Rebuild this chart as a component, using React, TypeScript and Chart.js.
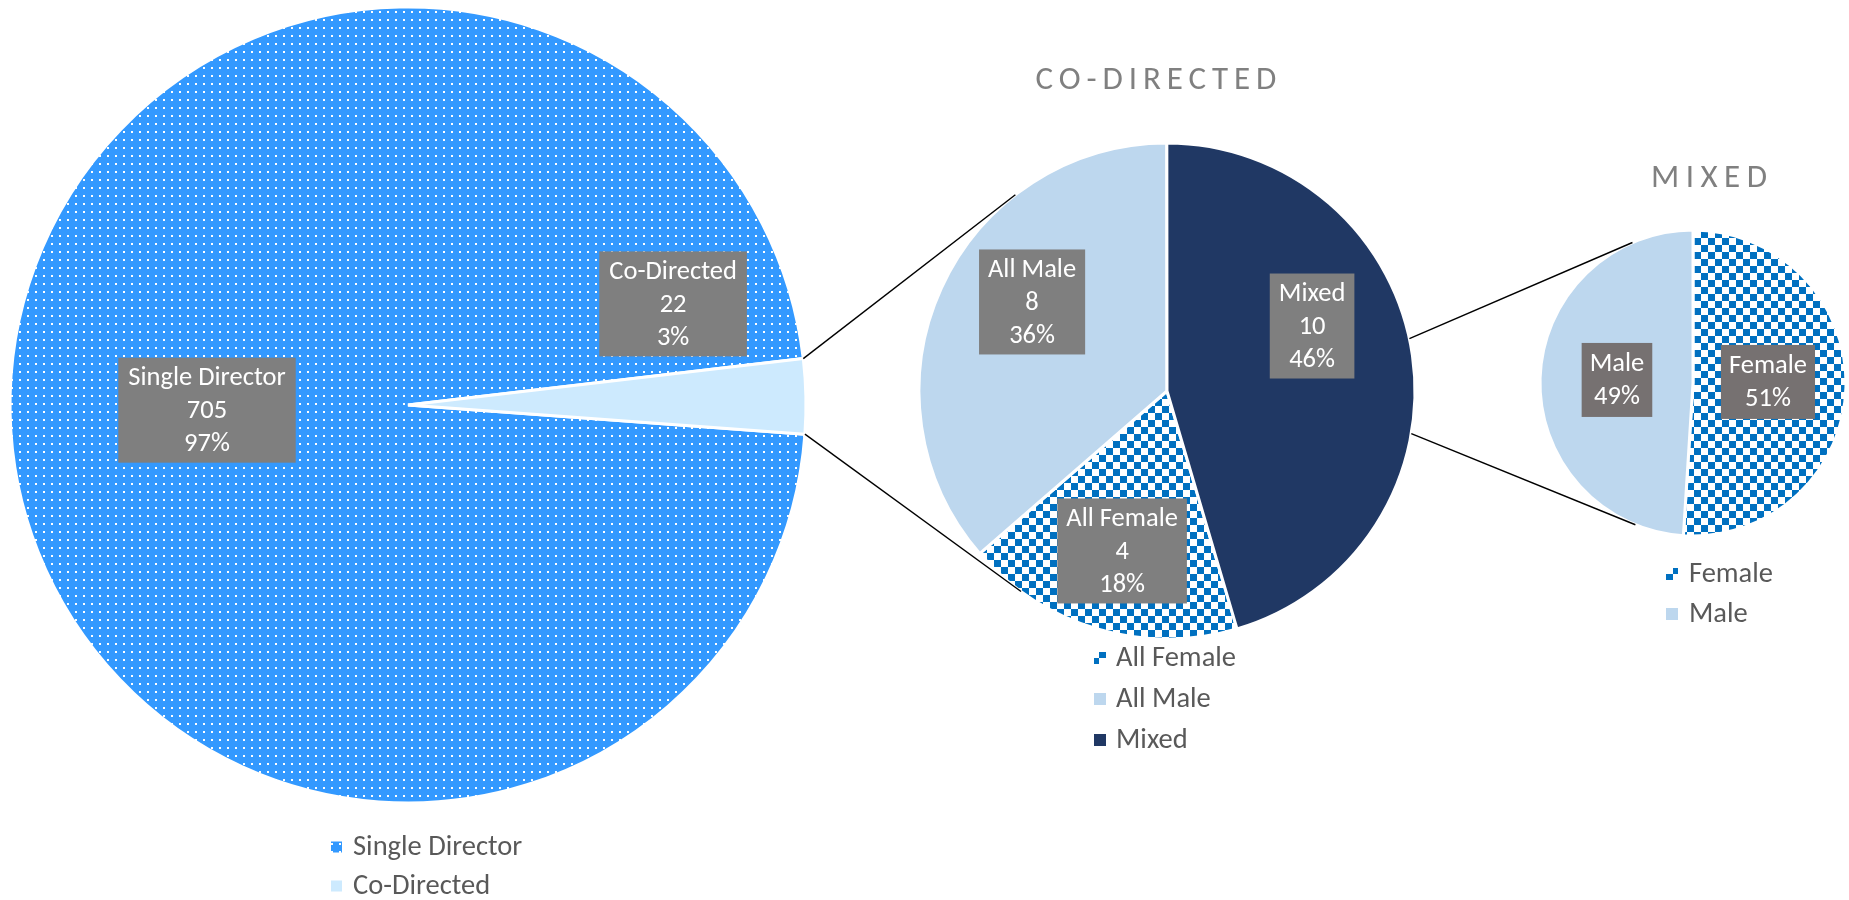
import React, { useEffect, useRef } from 'react';
import { Chart, registerables } from 'chart.js';

Chart.register(...registerables);

// ---------- data ----------
const mainLabels = ['Single Director', 'Co-Directed'];
const mainValues = [705, 22];
const mainPercents = [97, 3];

const coLabels = ['All Female', 'All Male', 'Mixed'];
const coValues = [4, 8, 10];
const coPercents = [18, 36, 46];

const mixedLabels = ['Female', 'Male'];
const mixedValues = [51, 49];
const mixedPercents = [51, 49];

const coTitle = 'CO-DIRECTED';
const mixedTitle = 'MIXED';

// ---------- layout / style ----------
const W = 1849;
const H = 900;
const FONT = "Carlito, Lato, 'Open Sans', sans-serif";
const LEGEND_COLOR = '#595959';
const LABEL_SIZE = 26.5;
const LEGEND_SIZE = 28.5;

function makeDots(): CanvasPattern | string {
  const c = document.createElement('canvas');
  c.width = 8;
  c.height = 8;
  const g = c.getContext('2d');
  if (!g) return '#3399FF';
  g.fillStyle = '#3399FF';
  g.fillRect(0, 0, 8, 8);
  g.fillStyle = '#FFFFFF';
  g.fillRect(3, 3, 2, 2);
  return g.createPattern(c, 'repeat') || '#3399FF';
}

function makeChecks(): CanvasPattern | string {
  const s = 7;
  const c = document.createElement('canvas');
  c.width = s * 2;
  c.height = s * 2;
  const g = c.getContext('2d');
  if (!g) return '#0070C0';
  g.fillStyle = '#FFFFFF';
  g.fillRect(0, 0, s * 2, s * 2);
  g.fillStyle = '#0070C0';
  g.fillRect(0, 0, s, s);
  g.fillRect(s, s, s, s);
  return g.createPattern(c, 'repeat') || '#0070C0';
}

type Geom = { cx: number; cy: number; r: number; rotation: number };

function labelPlugin(spec: {
  offsets: number[][];
  lines: (i: number) => string[];
  size: number;
  lh: number;
  padX: number;
  padY: number;
  box: string;
}) {
  return {
    id: 'boxLabels',
    afterDatasetsDraw(chart: any) {
      const ctx = chart.ctx as CanvasRenderingContext2D;
      const meta = chart.getDatasetMeta(0);
      meta.data.forEach((arc: any, i: number) => {
        const p = arc.getProps(['x', 'y', 'outerRadius'], true);
        const cx = p.x + spec.offsets[i][0] * p.outerRadius;
        const cy = p.y + spec.offsets[i][1] * p.outerRadius;
        const lines = spec.lines(i);
        ctx.save();
        ctx.font = `${spec.size}px ${FONT}`;
        const tw = Math.max(...lines.map((l) => ctx.measureText(l).width));
        const bw = tw + spec.padX * 2;
        const bh = lines.length * spec.lh + spec.padY * 2;
        ctx.fillStyle = spec.box;
        ctx.fillRect(cx - bw / 2, cy - bh / 2, bw, bh);
        ctx.fillStyle = '#FFFFFF';
        ctx.textAlign = 'center';
        ctx.textBaseline = 'middle';
        lines.forEach((l, k) => {
          ctx.fillText(l, cx, cy - bh / 2 + spec.padY + spec.lh * (k + 0.5) + 1);
        });
        ctx.restore();
      });
    },
  };
}

function legendPlugin(spec: { x: number; y: number; gap: number; box: number; textX: number; size: number }) {
  return {
    id: 'sideLegend',
    afterDraw(chart: any) {
      const ctx = chart.ctx as CanvasRenderingContext2D;
      const labels: string[] = chart.data.labels;
      const colors = chart.data.datasets[0].backgroundColor;
      ctx.save();
      ctx.font = `${spec.size}px ${FONT}`;
      ctx.textBaseline = 'middle';
      ctx.textAlign = 'left';
      labels.forEach((lab, i) => {
        const y = spec.y + i * spec.gap;
        ctx.fillStyle = colors[i];
        ctx.fillRect(spec.x, y - spec.box / 2, spec.box, spec.box);
        ctx.fillStyle = LEGEND_COLOR;
        ctx.fillText(lab, spec.textX, y + 1);
      });
      ctx.restore();
    },
  };
}

function titlePlugin(text: string, dx: number, dy: number, size: number, spacing: number) {
  return {
    id: 'pieTitle',
    afterDraw(chart: any) {
      const ctx = chart.ctx as CanvasRenderingContext2D;
      const arc = chart.getDatasetMeta(0).data[0];
      const p = arc.getProps(['x', 'y', 'outerRadius'], true);
      ctx.save();
      ctx.font = `300 ${size}px ${FONT}`;
      (ctx as any).letterSpacing = `${spacing}px`;
      ctx.fillStyle = '#808080';
      ctx.textAlign = 'center';
      ctx.textBaseline = 'middle';
      ctx.fillText(text, p.x + dx + spacing / 2, p.y - p.outerRadius + dy);
      ctx.restore();
    },
  };
}

function tangentPoint(px: number, py: number, cx: number, cy: number, r: number, upper: boolean) {
  const dx = px - cx;
  const dy = py - cy;
  const d = Math.sqrt(dx * dx + dy * dy);
  const phi = Math.atan2(dy, dx);
  const a = Math.acos(Math.min(1, r / d));
  const p1 = [cx + r * Math.cos(phi + a), cy + r * Math.sin(phi + a)];
  const p2 = [cx + r * Math.cos(phi - a), cy + r * Math.sin(phi - a)];
  if (upper) return p1[1] < p2[1] ? p1 : p2;
  return p1[1] > p2[1] ? p1 : p2;
}

function pieConfig(labels: string[], values: number[], colors: any[], g: Geom, plugins: any[]) {
  return {
    type: 'pie' as const,
    data: {
      labels,
      datasets: [
        {
          data: values,
          backgroundColor: colors,
          borderColor: '#FFFFFF',
          borderWidth: 3,
          hoverOffset: 0,
        },
      ],
    },
    options: {
      responsive: false,
      animation: false as const,
      events: [],
      rotation: g.rotation,
      radius: g.r,
      layout: {
        padding: {
          left: g.cx - g.r,
          right: W - g.cx - g.r,
          top: g.cy - g.r,
          bottom: H - g.cy - g.r,
        },
      },
      plugins: {
        legend: { display: false },
        tooltip: { enabled: false },
        title: { display: false },
      },
    },
    plugins,
  };
}

const mainGeom: Geom = { cx: 408, cy: 405, r: 398, rotation: 94.2 };
const coGeom: Geom = { cx: 1167, cy: 391, r: 248, rotation: 163.6 };
const mixedGeom: Geom = { cx: 1693, cy: 383, r: 153, rotation: 0 };

// start angles on the co-directed pie for the lines toward the mixed pie (deg, clockwise from 3 o'clock)
const coLinkAngles = [-12.2, 9.9];

export default function App() {
  const c1 = useRef<HTMLCanvasElement>(null);
  const c2 = useRef<HTMLCanvasElement>(null);
  const c3 = useRef<HTMLCanvasElement>(null);

  useEffect(() => {
    document.body.style.margin = '0';
    const dots = makeDots();
    const checks = makeChecks();

    const chart1 = new Chart(
      c1.current as HTMLCanvasElement,
      pieConfig(mainLabels, mainValues, [dots, '#CDEAFE'], mainGeom, [
        labelPlugin({
          offsets: [
            [-0.505, 0.013],
            [0.666, -0.254],
          ],
          lines: (i) => [mainLabels[i], String(mainValues[i]), `${mainPercents[i]}%`],
          size: LABEL_SIZE,
          lh: 33,
          padX: 10,
          padY: 3,
          box: '#7F7F7F',
        }),
        legendPlugin({ x: 331, y: 847, gap: 39, box: 11, textX: 353, size: LEGEND_SIZE }),
      ]) as any
    );

    const chart2 = new Chart(
      c2.current as HTMLCanvasElement,
      pieConfig(coLabels, coValues, [checks, '#BDD7EE', '#203864'], coGeom, [
        labelPlugin({
          offsets: [
            [-0.181, 0.645],
            [-0.544, -0.359],
            [0.585, -0.262],
          ],
          lines: (i) => [coLabels[i], String(coValues[i]), `${coPercents[i]}%`],
          size: LABEL_SIZE,
          lh: 33,
          padX: 9,
          padY: 3,
          box: '#7F7F7F',
        }),
        legendPlugin({ x: 1094, y: 658, gap: 41, box: 12, textX: 1116, size: LEGEND_SIZE }),
        titlePlugin(coTitle, -11, -62, 33, 5.9),
      ]) as any
    );

    const connectors = {
      id: 'connectors',
      afterDraw(chart: any) {
        const ctx = chart.ctx as CanvasRenderingContext2D;
        const a1 = chart1.getDatasetMeta(0).data[1] as any;
        const p1 = a1.getProps(['x', 'y', 'outerRadius', 'startAngle', 'endAngle'], true);
        const b = chart2.getDatasetMeta(0).data[0] as any;
        const p2 = b.getProps(['x', 'y', 'outerRadius'], true);
        const m = chart.getDatasetMeta(0).data[0] as any;
        const p3 = m.getProps(['x', 'y', 'outerRadius'], true);

        const segs: number[][] = [];
        // main pie -> co-directed pie
        const s1 = [p1.x + p1.outerRadius * Math.cos(p1.startAngle), p1.y + p1.outerRadius * Math.sin(p1.startAngle)];
        const s2 = [p1.x + p1.outerRadius * Math.cos(p1.endAngle), p1.y + p1.outerRadius * Math.sin(p1.endAngle)];
        const t1 = tangentPoint(s1[0], s1[1], p2.x, p2.y, p2.outerRadius, true);
        const t2 = tangentPoint(s2[0], s2[1], p2.x, p2.y, p2.outerRadius, false);
        segs.push([s1[0], s1[1], t1[0], t1[1]]);
        segs.push([s2[0], s2[1], t2[0], t2[1]]);
        // co-directed pie -> mixed pie
        const u = coLinkAngles.map((d) => {
          const a = (d * Math.PI) / 180;
          return [p2.x + p2.outerRadius * Math.cos(a), p2.y + p2.outerRadius * Math.sin(a)];
        });
        const v1 = tangentPoint(u[0][0], u[0][1], p3.x, p3.y, p3.outerRadius, true);
        const v2 = tangentPoint(u[1][0], u[1][1], p3.x, p3.y, p3.outerRadius, false);
        segs.push([u[0][0], u[0][1], v1[0], v1[1]]);
        segs.push([u[1][0], u[1][1], v2[0], v2[1]]);

        ctx.save();
        ctx.strokeStyle = '#000000';
        ctx.lineWidth = 1.4;
        segs.forEach((s) => {
          ctx.beginPath();
          ctx.moveTo(s[0], s[1]);
          ctx.lineTo(s[2], s[3]);
          ctx.stroke();
        });
        ctx.restore();
      },
    };

    const chart3 = new Chart(
      c3.current as HTMLCanvasElement,
      pieConfig(mixedLabels, mixedValues, [checks, '#BDD7EE'], mixedGeom, [
        labelPlugin({
          offsets: [
            [0.49, -0.007],
            [-0.497, -0.02],
          ],
          lines: (i) => [mixedLabels[i], `${mixedPercents[i]}%`],
          size: LABEL_SIZE,
          lh: 33,
          padX: 8,
          padY: 4,
          box: '#767171',
        }),
        legendPlugin({ x: 1666, y: 574, gap: 40, box: 12, textX: 1689, size: LEGEND_SIZE }),
        titlePlugin(mixedTitle, 16, -51, 33, 6.5),
        connectors,
      ]) as any
    );

    return () => {
      chart1.destroy();
      chart2.destroy();
      chart3.destroy();
    };
  }, []);

  const cs: React.CSSProperties = { position: 'absolute', left: 0, top: 0 };
  return (
    <div style={{ position: 'relative', width: W, height: H, background: '#FFFFFF' }}>
      <canvas ref={c1} width={W} height={H} style={cs} />
      <canvas ref={c2} width={W} height={H} style={cs} />
      <canvas ref={c3} width={W} height={H} style={cs} />
    </div>
  );
}
